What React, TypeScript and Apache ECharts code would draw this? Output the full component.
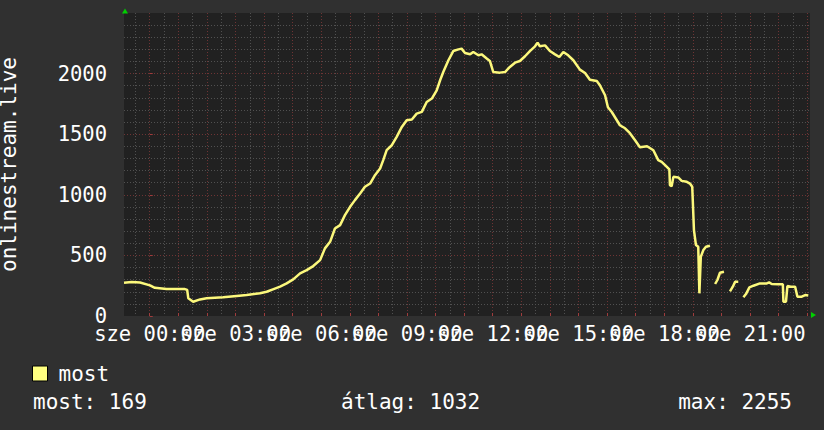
import React, { useEffect, useRef } from "react";
import * as echarts from "echarts";

// time in hours relative to 00:00 of the day (chart spans 24h)
const hours: number[] = [
  -0.9, -0.63, -0.34, 0.01, 0.18, 0.59, 1.23, 1.31, 1.35, 1.52, 1.76, 1.99, 2.57, 3.04, 3.39, 3.86,
  4.09, 4.31, 4.56, 4.79, 5.02, 5.26, 5.49, 5.72, 5.96, 6.13, 6.31, 6.48, 6.66, 6.83, 7.01, 7.18,
  7.36, 7.53, 7.71, 7.88, 8.06, 8.17, 8.29, 8.47, 8.64, 8.82, 8.99, 9.17, 9.34, 9.52, 9.69, 9.87,
  10.04, 10.16, 10.27, 10.45, 10.62, 10.8, 10.91, 11.03, 11.21, 11.32, 11.5, 11.61, 11.79, 11.9,
  12.02, 12.25, 12.43, 12.6, 12.78, 12.95, 13.13, 13.3, 13.48, 13.57, 13.65, 13.83, 14.0, 14.18,
  14.33, 14.47, 14.64, 14.82, 15.05, 15.23, 15.4, 15.64, 15.75, 15.93, 16.03, 16.17, 16.45, 16.63,
  16.8, 16.98, 17.15, 17.4, 17.62, 17.79, 17.91, 18.03, 18.18, 18.2, 18.26, 18.32, 18.49, 18.61,
  18.79, 18.9, 18.98, 19.04, 19.11, 19.19, 19.23, 19.28, 19.37, 19.46, 19.6, 19.7, 19.78, 19.86,
  19.95, 20.09, 20.15, 20.3, 20.4, 20.48, 20.59, 20.65, 20.77, 20.86, 20.98, 21.12, 21.35, 21.59,
  21.67, 21.76, 21.99, 22.15, 22.17, 22.26, 22.31, 22.43, 22.58, 22.66, 22.81, 22.93, 23.04,
];

const mostValues: (number | null)[] = [
  274, 280, 276, 253, 233, 222, 222, 215, 146, 118, 137, 146, 154, 165, 173, 187,
  200, 220, 242, 269, 302, 352, 379, 412, 461, 558, 612, 722, 750, 832, 901, 956,
  1011, 1066, 1093, 1162, 1217, 1286, 1368, 1409, 1478, 1560, 1615, 1621, 1670, 1684, 1766, 1794,
  1862, 1945, 2013, 2110, 2186, 2200, 2206, 2170, 2159, 2178, 2151, 2159, 2124, 2104,
  2013, 2008, 2013, 2055, 2090, 2104, 2143, 2186, 2225, 2255, 2225, 2233, 2186, 2159,
  2137, 2178, 2151, 2110, 2033, 2005, 1950, 1939, 1904, 1821, 1722, 1681, 1574, 1549,
  1508, 1450, 1393, 1401, 1368, 1286, 1272, 1244, 1209, 1080, 1071, 1148, 1143, 1115,
  1107, 1093, 1066, 709, 585, 571, 187, 489, 544, 571, 579, null, 264, 297,
  357, 365, null, 203, 242, 283, 283, null, 154, 181, 236, 250, 269, 269,
  277, 264, 261, 261, 118, 118, 247, 242, 242, 159, 159, 173, 169,
];

const seriesName = "most";
const dayPrefix = "sze";
const labelHoursA = [0, 6, 12, 18];
const labelHoursB = [3, 9, 15, 21];
const majorTickHours = Array.from({ length: 24 }, (_, i) => i);
const minorTickHours = Array.from({ length: 24 }, (_, i) => i - 0.5).filter((h) => h > -0.9);
const yMinorValues = Array.from({ length: 24 }, (_, i) => (i + 1) * 100).filter((v) => v % 500 !== 0);
const yAxisName = "onlinestream.live";
const statLabels = ["most: 169", "átlag: 1032", "max: 2255"];

const FONT = "DejaVu Sans Mono";
const LINE_COLOR = "#fcf87c";
const MAJOR = "#6e3434";
const MINOR = "#505050";

export default function App() {
  const ref = useRef<HTMLDivElement>(null);
  useEffect(() => {
    if (!ref.current) return;
    const chart = echarts.init(ref.current, null, { renderer: "svg" });
    const pad = (n: number) => (n < 10 ? "0" + n : "" + n);
    const labelStyle = {
      color: "#ffffff",
      fontFamily: FONT,
      fontSize: 20.5,
      margin: 7,
      hideOverlap: false,
      showMinLabel: true,
      showMaxLabel: true,
      formatter: (v: number) => `${dayPrefix} ${pad(Math.round(v))}:00`,
    };
    chart.setOption({
      animation: false,
      backgroundColor: "#303030",
      grid: {
        left: 124,
        top: 13,
        width: 686,
        height: 303,
        show: true,
        backgroundColor: "#212121",
        borderWidth: 0,
        containLabel: false,
        outerBoundsMode: "none",
      },
      legend: {
        data: [seriesName],
        left: 32,
        top: 363,
        padding: 0,
        icon: "rect",
        itemWidth: 15,
        itemHeight: 15,
        itemStyle: { borderColor: "#000", borderWidth: 1, color: "#ffff80" },
        textStyle: { color: "#ffffff", fontFamily: FONT, fontSize: 21, padding: [0, 0, 0, 6] },
      },
      xAxis: [
        {
          type: "value",
          min: -0.9,
          max: 23.1,
          position: "bottom",
          axisLine: { show: false },
          axisTick: { show: false, customValues: minorTickHours },
          axisLabel: { show: false },
          splitLine: { show: true, lineStyle: { color: MINOR, type: [1, 2], width: 1 } },
        },
        {
          type: "value",
          min: -0.9,
          max: 23.1,
          position: "bottom",
          axisLine: { show: false },
          axisTick: {
            show: true,
            inside: true,
            length: 3,
            customValues: majorTickHours,
            lineStyle: { color: "#a03c3c", width: 1 },
          },
          axisLabel: { ...labelStyle, customValues: labelHoursA },
          splitLine: { show: true, lineStyle: { color: MAJOR, type: [1, 2], width: 1 } },
        },
        {
          type: "value",
          min: -0.9,
          max: 23.1,
          position: "bottom",
          axisLine: { show: false },
          axisTick: { show: false, customValues: labelHoursB },
          axisLabel: { ...labelStyle, customValues: labelHoursB },
          splitLine: { show: false },
        },
      ],
      yAxis: [
        {
          type: "value",
          min: 0,
          max: 2500,
          position: "right",
          axisLine: { show: false },
          axisTick: { show: false, customValues: yMinorValues },
          axisLabel: { show: false },
          splitLine: { show: true, lineStyle: { color: MINOR, type: [1, 2], width: 1 } },
        },
        {
          type: "value",
          min: 0,
          max: 2500,
          interval: 500,
          position: "left",
          name: yAxisName,
          nameLocation: "middle",
          nameRotate: 90,
          nameGap: 105,
          nameTextStyle: { color: "#ffffff", fontFamily: FONT, fontSize: 21 },
          axisLine: { show: false },
          axisTick: { show: true, inside: true, length: 3, lineStyle: { color: "#a03c3c" } },
          axisLabel: {
            color: "#ffffff",
            fontFamily: FONT,
            fontSize: 20.5,
            margin: 17,
            showMaxLabel: false,
            formatter: (v: number) => String(v),
          },
          splitLine: {
            show: true,
            showMaxLine: false,
            showMinLine: false,
            lineStyle: { color: MAJOR, type: [1, 2], width: 1 },
          },
        },
      ],
      series: [
        {
          name: seriesName,
          type: "line",
          xAxisIndex: 1,
          yAxisIndex: 1,
          data: hours.map((h, i) => [h, mostValues[i]]),
          showSymbol: false,
          connectNulls: false,
          color: "#ffff80",
          lineStyle: { color: LINE_COLOR, width: 2.5 },
          z: 5,
        },
      ],
      graphic: [
        {
          type: "polygon",
          shape: { points: [[122, 13.5], [128, 13.5], [125, 8.5]] },
          style: { fill: "#00d000" },
          silent: true,
        },
        {
          type: "polygon",
          shape: { points: [[811, 312], [811, 318], [816, 315]] },
          style: { fill: "#00d000" },
          silent: true,
        },
        {
          type: "text",
          left: 33,
          top: 391,
          style: { text: statLabels[0], fill: "#ffffff", font: `21px "${FONT}"` },
        },
        {
          type: "text",
          left: 341,
          top: 391,
          style: { text: statLabels[1], fill: "#ffffff", font: `21px "${FONT}"` },
        },
        {
          type: "text",
          right: 32,
          top: 391,
          style: { text: statLabels[2], fill: "#ffffff", font: `21px "${FONT}"` },
        },
      ],
    });
    return () => chart.dispose();
  }, []);
  return (
    <div
      ref={ref}
      style={{ position: "fixed", left: 0, top: 0, width: 824, height: 430 }}
    />
  );
}
